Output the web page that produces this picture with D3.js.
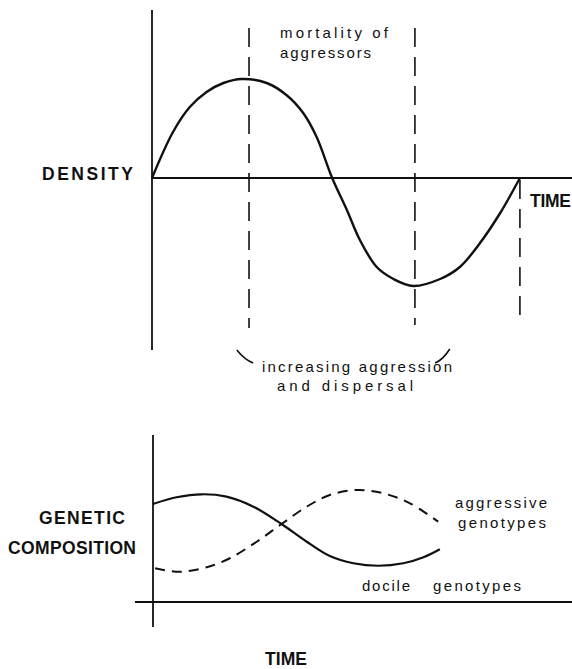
<!DOCTYPE html>
<html>
<head>
<script src="https://cdn.jsdelivr.net/npm/d3@7"></script>
<title>Density and genetic composition</title>
<style>
    body { margin: 0; background: #fff; }
    text { font-family: "Liberation Sans", Arial, sans-serif; fill: #111; }
    .cap { font-weight: bold; font-size: 17.5px; }
    .small { font-size: 15px; }
</style>
</head>
<body>
<script>

    // density cycle (time units, density relative to equilibrium)
    var densityTime  = [0, 0.5, 0.9, 1.3, 1.7, 2.14, 2.73, 3.2, 3.6, 3.92, 4.29, 4.64, 4.95, 5.35, 5.75, 6.22, 6.86, 7.33, 7.81, 8.29, 8.76];
    var densityValue = [0, 0.46, 0.71, 0.86, 0.95, 0.99, 0.95, 0.83, 0.65, 0.41, 0, -0.32, -0.62, -0.89, -1.01, -1.08, -1.01, -0.89, -0.65, -0.35, 0];

    // dashed time markers
    var markerTime   = [2.31, 6.26, 8.76];
    var markerTop    = [1.50, 1.50, -0.02];
    var markerBottom = [-1.50, -1.47, -1.47];

    // genetic composition (time units, relative frequency)
    var docileTime      = [0, 0.56, 1.16, 1.75, 2.39, 3.06, 3.66, 4.21, 4.77, 5.36, 5.96, 6.44, 6.83];
    var docileValue     = [5.87, 6.27, 6.45, 6.31, 5.71, 4.67, 3.61, 2.75, 2.32, 2.17, 2.32, 2.68, 3.16];
    var aggressiveTime  = [0.05, 0.64, 1.28, 1.83, 2.47, 3.06, 3.66, 4.21, 4.85, 5.48, 6.12, 6.79];
    var aggressiveValue = [2.02, 1.81, 2.08, 2.62, 3.61, 4.67, 5.71, 6.41, 6.71, 6.51, 5.91, 4.81];

    var width = 572, height = 669;

    var svg = d3.select("body").append("svg")
        .attr("width", width)
        .attr("height", height);

    //////// TOP PANEL: DENSITY ////////
    var xT = d3.scaleLinear().domain([0, 10]).range([152, 572]);
    var yT = d3.scaleLinear().domain([-1, 1]).range([278, 78]);

    var line = d3.line().curve(d3.curveCatmullRom.alpha(0.5));

    // axes
    svg.append("line")
        .attr("x1", xT(0)).attr("x2", xT(0))
        .attr("y1", yT(1.68)).attr("y2", yT(-1.72))
        .attr("stroke", "#111").attr("stroke-width", 1.8);
    svg.append("line")
        .attr("x1", xT(0)).attr("x2", xT(10))
        .attr("y1", yT(0)).attr("y2", yT(0))
        .attr("stroke", "#111").attr("stroke-width", 2);

    // markers
    svg.selectAll(".marker")
        .data(markerTime)
        .enter().append("line")
        .attr("class", "marker")
        .attr("x1", function(d){ return xT(d); })
        .attr("x2", function(d){ return xT(d); })
        .attr("y1", function(d, i){ return yT(markerTop[i]); })
        .attr("y2", function(d, i){ return yT(markerBottom[i]); })
        .attr("stroke", "#111")
        .attr("stroke-width", 1.6)
        .attr("stroke-dasharray", "19,10");

    // density curve
    svg.append("path")
        .attr("d", line(densityTime.map(function(t, i){ return [xT(t), yT(densityValue[i])]; })))
        .attr("fill", "none")
        .attr("stroke", "#111")
        .attr("stroke-width", 2.4);

    // bracket under the markers
    var bl = [xT(2.02), yT(-1.72)], blEnd = [xT(2.41), yT(-1.85)];
    var br = [xT(7.09), yT(-1.71)], brEnd = [xT(6.74), yT(-1.85)];
    svg.append("path")
        .attr("d", "M" + bl + "Q" + [bl[0] + 8, blEnd[1] - 3] + " " + blEnd +
                   "M" + br + "Q" + [br[0] - 7, brEnd[1] - 3] + " " + brEnd)
        .attr("fill", "none")
        .attr("stroke", "#111")
        .attr("stroke-width", 1.6);

    // labels
    svg.append("text").attr("class", "small")
        .attr("x", 280).attr("y", 38)
        .attr("textLength", 108).attr("lengthAdjust", "spacing")
        .text("mortality of");
    svg.append("text").attr("class", "small")
        .attr("x", 280).attr("y", 58)
        .attr("textLength", 91).attr("lengthAdjust", "spacing")
        .text("aggressors");
    svg.append("text").attr("class", "cap")
        .attr("x", 42).attr("y", 180)
        .attr("textLength", 91).attr("lengthAdjust", "spacing")
        .text("DENSITY");
    svg.append("text").attr("class", "cap")
        .attr("x", 530).attr("y", 207)
        .attr("textLength", 41).attr("lengthAdjust", "spacing")
        .text("TIME");
    svg.append("text").attr("class", "small")
        .attr("x", 262).attr("y", 372)
        .attr("textLength", 190).attr("lengthAdjust", "spacing")
        .text("increasing aggression");
    svg.append("text").attr("class", "small")
        .attr("x", 277).attr("y", 391)
        .attr("textLength", 136).attr("lengthAdjust", "spacing")
        .text("and dispersal");

    //////// BOTTOM PANEL: GENETIC COMPOSITION ////////
    var xB = d3.scaleLinear().domain([0, 10]).range([153, 573]);
    var yB = d3.scaleLinear().domain([0, 10]).range([602, 435]);

    svg.append("line")
        .attr("x1", xB(0)).attr("x2", xB(0))
        .attr("y1", yB(10)).attr("y2", yB(-1.5))
        .attr("stroke", "#111").attr("stroke-width", 1.8);
    svg.append("line")
        .attr("x1", xB(-0.43)).attr("x2", xB(10))
        .attr("y1", yB(0)).attr("y2", yB(0))
        .attr("stroke", "#111").attr("stroke-width", 2);

    svg.append("path")
        .attr("d", line(docileTime.map(function(t, i){ return [xB(t), yB(docileValue[i])]; })))
        .attr("fill", "none")
        .attr("stroke", "#111")
        .attr("stroke-width", 2.2);
    svg.append("path")
        .attr("d", line(aggressiveTime.map(function(t, i){ return [xB(t), yB(aggressiveValue[i])]; })))
        .attr("fill", "none")
        .attr("stroke", "#111")
        .attr("stroke-width", 2)
        .attr("stroke-dasharray", "10,7");

    svg.append("text").attr("class", "cap")
        .attr("x", 39).attr("y", 524)
        .attr("textLength", 86).attr("lengthAdjust", "spacing")
        .text("GENETIC");
    svg.append("text").attr("class", "cap")
        .attr("x", 8).attr("y", 554)
        .attr("textLength", 128).attr("lengthAdjust", "spacing")
        .text("COMPOSITION");
    svg.append("text").attr("class", "small")
        .attr("x", 455).attr("y", 508)
        .attr("textLength", 92).attr("lengthAdjust", "spacing")
        .text("aggressive");
    svg.append("text").attr("class", "small")
        .attr("x", 458).attr("y", 528)
        .attr("textLength", 88).attr("lengthAdjust", "spacing")
        .text("genotypes");
    svg.append("text").attr("class", "small")
        .attr("x", 362).attr("y", 591)
        .attr("textLength", 48).attr("lengthAdjust", "spacing")
        .text("docile");
    svg.append("text").attr("class", "small")
        .attr("x", 433).attr("y", 591)
        .attr("textLength", 88).attr("lengthAdjust", "spacing")
        .text("genotypes");
    svg.append("text").attr("class", "cap")
        .attr("x", 265).attr("y", 665)
        .attr("textLength", 42).attr("lengthAdjust", "spacing")
        .text("TIME");

</script>
</body>
</html>
